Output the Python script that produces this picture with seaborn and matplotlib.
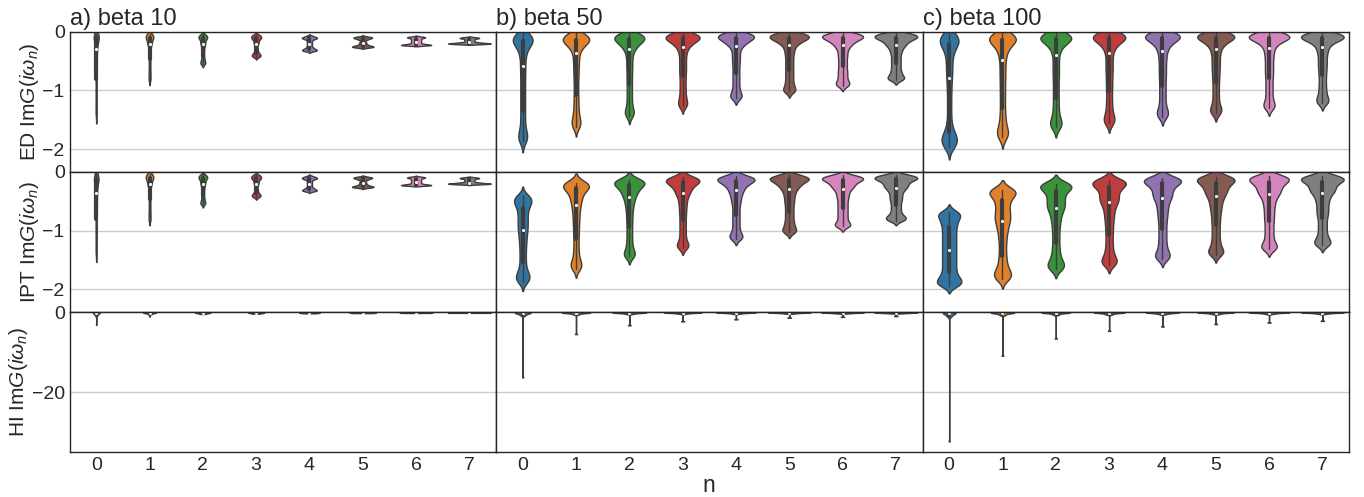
import numpy as np
import pandas as pd
import matplotlib
matplotlib.use("Agg")
import matplotlib.pyplot as plt
import seaborn as sns

# ---------------------------------------------------------------------------
# Im G(i w_n) samples for the first eight Matsubara frequencies n = 0..7
# ---------------------------------------------------------------------------
n_labels = ["0", "1", "2", "3", "4", "5", "6", "7"]
titles = ["a) beta 10", "b) beta 50", "c) beta 100"]
row_labels = ["ED", "IPT", "HI"]

ed_beta10 = [
    [-0.03, -0.05, -0.06, -0.07, -0.08, -0.09, -0.10, -0.12, -0.14, -0.17, -0.21, -0.26,
     -0.32, -0.39, -0.47, -0.56, -0.66, -0.77, -0.88, -0.99, -1.10, -1.21, -1.32, -1.42],
    [-0.03, -0.05, -0.06, -0.07, -0.08, -0.09, -0.10, -0.11, -0.13, -0.15, -0.17, -0.19,
     -0.21, -0.24, -0.28, -0.33, -0.39, -0.45, -0.52, -0.59, -0.66, -0.72, -0.78, -0.83],
    [-0.04, -0.06, -0.07, -0.08, -0.09, -0.10, -0.11, -0.12, -0.14, -0.16, -0.18, -0.20,
     -0.22, -0.25, -0.28, -0.32, -0.36, -0.40, -0.44, -0.47, -0.50, -0.52, -0.54, -0.55],
    [-0.05, -0.06, -0.07, -0.08, -0.09, -0.10, -0.11, -0.12, -0.13, -0.15, -0.17, -0.19,
     -0.21, -0.24, -0.28, -0.31, -0.34, -0.36, -0.38, -0.39, -0.40, -0.41, -0.42, -0.43],
    [-0.07, -0.08, -0.09, -0.10, -0.10, -0.11, -0.11, -0.12, -0.13, -0.15, -0.17, -0.19,
     -0.21, -0.23, -0.25, -0.27, -0.28, -0.29, -0.30, -0.31, -0.31, -0.32, -0.32, -0.33],
    [-0.08, -0.09, -0.09, -0.10, -0.10, -0.11, -0.11, -0.12, -0.13, -0.14, -0.16, -0.18,
     -0.19, -0.21, -0.22, -0.23, -0.24, -0.24, -0.25, -0.25, -0.26, -0.26, -0.26, -0.27],
    [-0.08, -0.09, -0.09, -0.10, -0.10, -0.11, -0.12, -0.13, -0.14, -0.15, -0.16, -0.17,
     -0.18, -0.19, -0.20, -0.21, -0.21, -0.22, -0.22, -0.22, -0.23, -0.23, -0.23, -0.23],
    [-0.09, -0.10, -0.10, -0.11, -0.11, -0.12, -0.13, -0.14, -0.15, -0.16, -0.17, -0.18,
     -0.18, -0.19, -0.19, -0.19, -0.20, -0.20, -0.20, -0.20, -0.20, -0.21, -0.21, -0.21],
]

ed_beta50 = [
    [-0.02, -0.05, -0.08, -0.10, -0.12, -0.13, -0.14, -0.15, -0.17, -0.19, -0.22, -0.26,
     -0.31, -0.37, -0.45, -0.54, -0.63, -0.72, -0.82, -0.92, -1.02, -1.12, -1.22, -1.32,
     -1.42, -1.52, -1.62, -1.70, -1.76, -1.80, -1.83, -1.86],
    [-0.02, -0.05, -0.07, -0.09, -0.10, -0.11, -0.12, -0.13, -0.14, -0.15, -0.17, -0.19,
     -0.21, -0.24, -0.28, -0.33, -0.40, -0.48, -0.56, -0.65, -0.74, -0.84, -0.95, -1.06,
     -1.16, -1.26, -1.35, -1.43, -1.50, -1.55, -1.59, -1.62],
    [-0.02, -0.04, -0.06, -0.07, -0.08, -0.09, -0.10, -0.11, -0.12, -0.13, -0.15, -0.17,
     -0.19, -0.21, -0.24, -0.27, -0.31, -0.37, -0.44, -0.52, -0.60, -0.68, -0.77, -0.86,
     -0.95, -1.04, -1.13, -1.22, -1.30, -1.36, -1.40, -1.43],
    [-0.02, -0.04, -0.05, -0.06, -0.07, -0.08, -0.09, -0.10, -0.11, -0.12, -0.13, -0.15,
     -0.17, -0.19, -0.21, -0.24, -0.28, -0.33, -0.39, -0.46, -0.53, -0.60, -0.67, -0.74,
     -0.82, -0.90, -0.98, -1.06, -1.13, -1.19, -1.24, -1.27],
    [-0.02, -0.03, -0.04, -0.05, -0.06, -0.07, -0.08, -0.09, -0.10, -0.11, -0.12, -0.14,
     -0.16, -0.18, -0.20, -0.22, -0.26, -0.31, -0.37, -0.43, -0.49, -0.55, -0.62, -0.69,
     -0.76, -0.83, -0.90, -0.97, -1.03, -1.08, -1.11, -1.13],
    [-0.02, -0.03, -0.04, -0.05, -0.06, -0.07, -0.08, -0.09, -0.10, -0.11, -0.12, -0.13,
     -0.15, -0.17, -0.19, -0.21, -0.25, -0.29, -0.34, -0.39, -0.45, -0.51, -0.57, -0.63,
     -0.69, -0.75, -0.81, -0.87, -0.92, -0.97, -1.00, -1.02],
    [-0.02, -0.03, -0.04, -0.05, -0.06, -0.07, -0.08, -0.09, -0.10, -0.11, -0.12, -0.13,
     -0.15, -0.17, -0.19, -0.21, -0.24, -0.27, -0.31, -0.36, -0.41, -0.46, -0.52, -0.57,
     -0.63, -0.68, -0.73, -0.78, -0.83, -0.87, -0.90, -0.92],
    [-0.02, -0.03, -0.04, -0.05, -0.06, -0.07, -0.08, -0.09, -0.10, -0.11, -0.12, -0.13,
     -0.15, -0.17, -0.19, -0.21, -0.23, -0.26, -0.29, -0.33, -0.37, -0.42, -0.47, -0.52,
     -0.57, -0.62, -0.67, -0.71, -0.75, -0.78, -0.80, -0.82],
]

ed_beta100 = [
    [-0.03, -0.06, -0.09, -0.11, -0.13, -0.15, -0.17, -0.19, -0.22, -0.26, -0.31, -0.38,
     -0.46, -0.55, -0.64, -0.73, -0.83, -0.95, -1.08, -1.22, -1.36, -1.50, -1.62, -1.70,
     -1.75, -1.79, -1.82, -1.85, -1.88, -1.90, -1.93, -1.96],
    [-0.02, -0.05, -0.07, -0.09, -0.10, -0.11, -0.12, -0.13, -0.14, -0.16, -0.18, -0.21,
     -0.25, -0.30, -0.36, -0.43, -0.52, -0.62, -0.72, -0.82, -0.93, -1.04, -1.15, -1.27,
     -1.38, -1.48, -1.57, -1.64, -1.70, -1.74, -1.77, -1.80],
    [-0.02, -0.04, -0.06, -0.07, -0.08, -0.09, -0.10, -0.11, -0.12, -0.13, -0.15, -0.17,
     -0.20, -0.24, -0.29, -0.35, -0.44, -0.53, -0.62, -0.71, -0.80, -0.90, -1.00, -1.10,
     -1.20, -1.30, -1.39, -1.47, -1.53, -1.57, -1.60, -1.63],
    [-0.02, -0.03, -0.05, -0.06, -0.07, -0.08, -0.09, -0.10, -0.11, -0.12, -0.14, -0.16,
     -0.19, -0.23, -0.27, -0.32, -0.40, -0.48, -0.56, -0.64, -0.72, -0.81, -0.90, -0.99,
     -1.09, -1.19, -1.28, -1.37, -1.44, -1.49, -1.53, -1.56],
    [-0.02, -0.03, -0.04, -0.05, -0.06, -0.07, -0.08, -0.09, -0.10, -0.11, -0.13, -0.15,
     -0.18, -0.21, -0.25, -0.29, -0.35, -0.42, -0.49, -0.57, -0.65, -0.73, -0.81, -0.90,
     -0.99, -1.08, -1.17, -1.26, -1.33, -1.38, -1.42, -1.45],
    [-0.02, -0.03, -0.04, -0.05, -0.06, -0.07, -0.08, -0.09, -0.10, -0.11, -0.12, -0.14,
     -0.17, -0.20, -0.23, -0.27, -0.33, -0.39, -0.46, -0.53, -0.60, -0.67, -0.75, -0.83,
     -0.92, -1.01, -1.10, -1.19, -1.27, -1.32, -1.36, -1.39],
    [-0.02, -0.03, -0.04, -0.05, -0.06, -0.07, -0.08, -0.09, -0.10, -0.11, -0.12, -0.13,
     -0.15, -0.18, -0.21, -0.25, -0.30, -0.36, -0.42, -0.49, -0.56, -0.63, -0.70, -0.77,
     -0.85, -0.93, -1.01, -1.09, -1.17, -1.23, -1.27, -1.30],
    [-0.02, -0.03, -0.04, -0.05, -0.06, -0.07, -0.08, -0.09, -0.10, -0.11, -0.12, -0.13,
     -0.15, -0.17, -0.20, -0.24, -0.28, -0.33, -0.39, -0.45, -0.52, -0.58, -0.65, -0.72,
     -0.80, -0.88, -0.96, -1.03, -1.10, -1.15, -1.19, -1.22],
]

# IPT agrees with ED at beta = 10 except for the lowest frequency
ipt_beta10_n0 = [-0.04, -0.06, -0.08, -0.10, -0.11, -0.12, -0.14, -0.16, -0.19, -0.23, -0.28, -0.33,
                 -0.38, -0.45, -0.52, -0.60, -0.68, -0.77, -0.87, -0.97, -1.07, -1.18, -1.29, -1.40]
ipt_beta10 = [ipt_beta10_n0] + ed_beta10[1:]

ipt_beta50 = [
    [-0.40, -0.43, -0.45, -0.47, -0.49, -0.52, -0.55, -0.58, -0.62, -0.67, -0.72, -0.77,
     -0.82, -0.87, -0.92, -0.97, -1.02, -1.08, -1.14, -1.21, -1.28, -1.36, -1.44, -1.52,
     -1.60, -1.67, -1.72, -1.76, -1.79, -1.82, -1.85, -1.88],
    [-0.18, -0.19, -0.20, -0.21, -0.22, -0.23, -0.24, -0.26, -0.28, -0.30, -0.33, -0.36,
     -0.40, -0.44, -0.48, -0.53, -0.58, -0.64, -0.71, -0.78, -0.86, -0.94, -1.03, -1.12,
     -1.22, -1.32, -1.41, -1.49, -1.55, -1.59, -1.62, -1.65],
    [-0.13, -0.14, -0.15, -0.16, -0.17, -0.18, -0.19, -0.20, -0.22, -0.24, -0.26, -0.28,
     -0.31, -0.34, -0.37, -0.40, -0.44, -0.49, -0.54, -0.60, -0.67, -0.75, -0.83, -0.92,
     -1.01, -1.10, -1.19, -1.27, -1.34, -1.39, -1.42, -1.44],
    [-0.09, -0.10, -0.11, -0.12, -0.13, -0.14, -0.15, -0.16, -0.17, -0.19, -0.21, -0.23,
     -0.25, -0.28, -0.31, -0.34, -0.37, -0.41, -0.46, -0.52, -0.58, -0.65, -0.72, -0.80,
     -0.88, -0.96, -1.04, -1.12, -1.19, -1.24, -1.27, -1.29],
    [-0.07, -0.08, -0.09, -0.10, -0.11, -0.12, -0.13, -0.14, -0.15, -0.16, -0.18, -0.20,
     -0.22, -0.24, -0.27, -0.30, -0.33, -0.37, -0.41, -0.46, -0.51, -0.57, -0.64, -0.71,
     -0.78, -0.85, -0.92, -0.99, -1.05, -1.09, -1.12, -1.14],
    [-0.06, -0.07, -0.08, -0.09, -0.10, -0.11, -0.12, -0.13, -0.14, -0.15, -0.17, -0.19,
     -0.21, -0.23, -0.25, -0.28, -0.31, -0.35, -0.39, -0.44, -0.49, -0.54, -0.60, -0.66,
     -0.72, -0.78, -0.84, -0.89, -0.94, -0.98, -1.01, -1.03],
    [-0.06, -0.07, -0.08, -0.09, -0.10, -0.11, -0.12, -0.13, -0.14, -0.15, -0.17, -0.19,
     -0.21, -0.23, -0.25, -0.27, -0.30, -0.33, -0.37, -0.41, -0.45, -0.50, -0.55, -0.60,
     -0.65, -0.70, -0.75, -0.80, -0.85, -0.89, -0.91, -0.93],
    [-0.05, -0.06, -0.07, -0.08, -0.09, -0.10, -0.11, -0.12, -0.13, -0.14, -0.16, -0.18,
     -0.20, -0.22, -0.24, -0.26, -0.28, -0.31, -0.34, -0.38, -0.42, -0.46, -0.50, -0.55,
     -0.60, -0.65, -0.70, -0.74, -0.77, -0.79, -0.81, -0.83],
]

ipt_beta100 = [
    [-0.68, -0.70, -0.72, -0.75, -0.78, -0.82, -0.86, -0.90, -0.95, -1.00, -1.05, -1.10,
     -1.15, -1.20, -1.25, -1.30, -1.35, -1.40, -1.45, -1.50, -1.55, -1.60, -1.65, -1.70,
     -1.75, -1.79, -1.82, -1.85, -1.88, -1.90, -1.92, -1.94],
    [-0.30, -0.31, -0.32, -0.33, -0.35, -0.37, -0.40, -0.44, -0.48, -0.53, -0.58, -0.63,
     -0.68, -0.73, -0.77, -0.81, -0.86, -0.91, -0.97, -1.04, -1.12, -1.21, -1.31, -1.41,
     -1.50, -1.58, -1.65, -1.70, -1.74, -1.77, -1.80, -1.83],
    [-0.20, -0.21, -0.22, -0.23, -0.24, -0.25, -0.27, -0.30, -0.33, -0.37, -0.41, -0.45,
     -0.49, -0.53, -0.57, -0.60, -0.64, -0.69, -0.75, -0.82, -0.90, -0.99, -1.09, -1.19,
     -1.29, -1.38, -1.46, -1.52, -1.57, -1.60, -1.63, -1.66],
    [-0.14, -0.15, -0.16, -0.17, -0.18, -0.19, -0.21, -0.23, -0.26, -0.29, -0.32, -0.36,
     -0.40, -0.44, -0.47, -0.50, -0.54, -0.59, -0.65, -0.72, -0.79, -0.87, -0.96, -1.05,
     -1.15, -1.25, -1.34, -1.42, -1.48, -1.52, -1.55, -1.58],
    [-0.10, -0.11, -0.12, -0.13, -0.14, -0.15, -0.16, -0.18, -0.20, -0.23, -0.26, -0.29,
     -0.33, -0.37, -0.40, -0.43, -0.47, -0.52, -0.58, -0.64, -0.71, -0.78, -0.86, -0.95,
     -1.04, -1.13, -1.22, -1.30, -1.37, -1.42, -1.45, -1.48],
    [-0.08, -0.09, -0.10, -0.11, -0.12, -0.13, -0.15, -0.17, -0.19, -0.21, -0.24, -0.27,
     -0.30, -0.33, -0.36, -0.39, -0.43, -0.48, -0.53, -0.59, -0.65, -0.72, -0.80, -0.88,
     -0.97, -1.06, -1.15, -1.23, -1.30, -1.35, -1.38, -1.41],
    [-0.07, -0.08, -0.09, -0.10, -0.11, -0.12, -0.14, -0.16, -0.18, -0.20, -0.22, -0.25,
     -0.28, -0.31, -0.34, -0.36, -0.40, -0.44, -0.49, -0.55, -0.61, -0.68, -0.75, -0.82,
     -0.90, -0.98, -1.06, -1.14, -1.21, -1.26, -1.29, -1.32],
    [-0.07, -0.08, -0.09, -0.10, -0.11, -0.12, -0.13, -0.15, -0.17, -0.19, -0.21, -0.24,
     -0.27, -0.30, -0.32, -0.34, -0.38, -0.42, -0.47, -0.52, -0.58, -0.64, -0.70, -0.76,
     -0.84, -0.92, -1.00, -1.08, -1.14, -1.19, -1.22, -1.25],
]

# Hubbard-I: the upper part of the ED samples plus one strongly negative outlier
hi_core_size = 20
hi_tail_beta10 = [[-3.2], [-1.1], [], [], [], [], [], []]
hi_tail_beta50 = [[-16.3], [-5.5], [-3.3], [-2.3], [-1.8], [-1.4], [-1.2], [-1.0]]
hi_tail_beta100 = [[-32.3], [-10.9], [-6.6], [-4.7], [-3.6], [-3.0], [-2.6], [-2.2]]

hi_beta10 = [base[:hi_core_size] + tail for base, tail in zip(ed_beta10, hi_tail_beta10)]
hi_beta50 = [base[:hi_core_size] + tail for base, tail in zip(ed_beta50, hi_tail_beta50)]
hi_beta100 = [base[:hi_core_size] + tail for base, tail in zip(ed_beta100, hi_tail_beta100)]

grid_data = [
    [ed_beta10, ed_beta50, ed_beta100],
    [ipt_beta10, ipt_beta50, ipt_beta100],
    [hi_beta10, hi_beta50, hi_beta100],
]


def to_frame(groups):
    rows = [(n_labels[i], v) for i, vals in enumerate(groups) for v in vals]
    return pd.DataFrame(rows, columns=["n", "ImG"])


def robust_scott(kde):
    """Scott factor based on the interquartile spread, so outliers do not widen the kernel."""
    x = np.asarray(kde.dataset).ravel()
    q75, q25 = np.percentile(x, [75, 25])
    spread = (q75 - q25) / 1.349
    return x.size ** -0.2 * spread / x.std(ddof=1)


sns.set_theme(style="whitegrid")
plt.rcParams["font.family"] = ["Liberation Sans", "DejaVu Sans"]
plt.rcParams["mathtext.fontset"] = "custom"
plt.rcParams["mathtext.rm"] = "Liberation Sans"
plt.rcParams["mathtext.it"] = "Liberation Sans:italic"
plt.rcParams["axes.edgecolor"] = "0.15"
plt.rcParams["axes.linewidth"] = 1.0
plt.rcParams["xtick.major.size"] = 0
plt.rcParams["ytick.major.size"] = 0
plt.rcParams["xtick.major.pad"] = 3.5
plt.rcParams["ytick.major.pad"] = 3.5

fig, axes = plt.subplots(3, 3, figsize=(13.64, 4.97), dpi=100, sharex=True, sharey="row")
fig.subplots_adjust(left=0.051, right=0.989, top=0.936, bottom=0.09, hspace=0, wspace=0)

inner_style = dict(box_width=3.0, whis_width=1.0, marker="o", markersize=1.6)

for r in range(3):
    for c in range(3):
        ax = axes[r, c]
        df = to_frame(grid_data[r][c])
        if r < 2:
            kde_opts = dict(bw_method="scott", bw_adjust=0.3, gridsize=400, cut=2)
        else:
            kde_opts = dict(bw_method=robust_scott, bw_adjust=1.2, gridsize=4000, cut=0)
        sns.violinplot(data=df, x="n", y="ImG", hue="n", palette="tab10", legend=False,
                       common_norm=True, inner="box", inner_kws=inner_style,
                       linewidth=1.0, ax=ax, **kde_opts)
        ax.set_xlabel("")
        ax.set_ylabel("")
        ax.tick_params(axis="both", labelsize=14)

for c in range(3):
    axes[0, c].set_title(titles[c], loc="left", fontsize=17, pad=5)

for r in range(3):
    axes[r, 0].set_ylabel(row_labels[r] + r" Im$G(i\omega_n)$", fontsize=15, labelpad=1)

for r in range(2):
    axes[r, 0].set_ylim(-2.39, 0)
    axes[r, 0].set_yticks([-2, -1, 0])
axes[2, 0].set_ylim(-35, 0)
axes[2, 0].set_yticks([-20, 0])

axes[2, 1].set_xlabel("n", fontsize=16.5, labelpad=0)

fig.savefig("out.png", dpi=100)
